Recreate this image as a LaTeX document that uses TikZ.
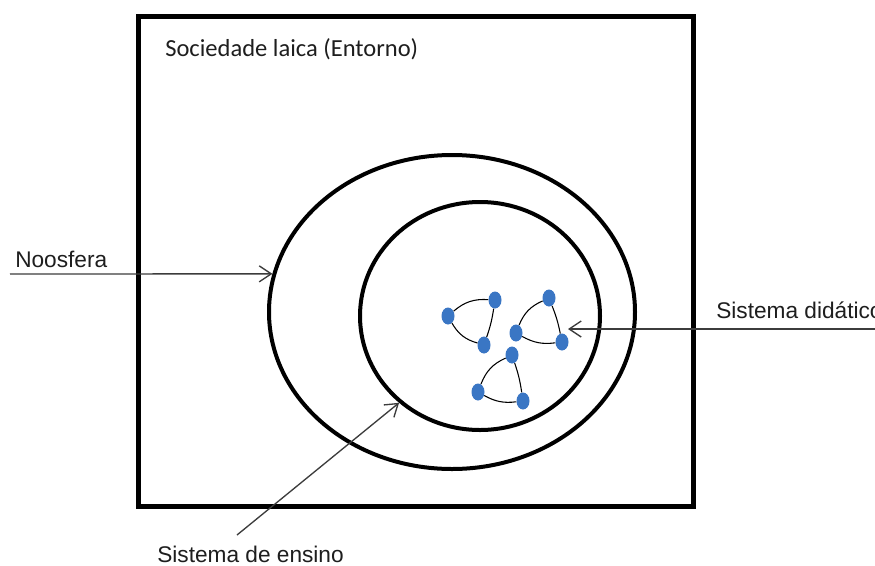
\documentclass[tikz,border=0pt]{standalone}
\usepackage{fontspec}
\setmainfont{Liberation Sans}
\newfontfamily\calfont{Carlito}
\usetikzlibrary{shapes.geometric,arrows.meta}
\definecolor{dotblue}{RGB}{58,118,196}
\definecolor{arrowgray}{RGB}{60,60,60}
\definecolor{txt}{RGB}{30,30,30}
\tikzset{
  frameline/.style={draw=black, line width=3.75pt},
  ring/.style={ellipse, draw=black, line width=3pt, inner sep=0pt},
  agent/.style={ellipse, fill=dotblue, draw=none, minimum width=9.75pt, minimum height=12.75pt, inner sep=0pt},
  tie/.style={draw=black, line width=0.8pt},
  pointer/.style={draw=arrowgray, line width=1pt, -{Straight Barb[length=9pt,width=12pt,line width=1pt]}},
  label/.style={anchor=base west, inner sep=0pt, text=txt, font=\fontsize{17}{20}\selectfont},
}
\begin{document}
\begin{tikzpicture}[x=0.75pt, y=-0.75pt]
\useasboundingbox (0,0) rectangle (875,565);
\clip (0,0) rectangle (875,565);
\fill[white] (0,0) rectangle (875,565);
% frame
\draw[frameline] (138,16) rectangle (693,506);
\node[label, font=\calfont\fontsize{18.4}{22}\selectfont] (soc) at (165,56) {Sociedade laica (Entorno)};
% rings
\node[ring, minimum width=274.5pt, minimum height=235.5pt] (outer) at (452,312) {};
\node[ring, minimum width=180pt, minimum height=171pt] (inner) at (480,316) {};
% agents
\node[agent] (a1) at (448,316) {};
\node[agent] (a2) at (495,300) {};
\node[agent] (a3) at (484,345) {};
\node[agent] (b1) at (549,298) {};
\node[agent] (b2) at (516,333) {};
\node[agent] (b3) at (562,342) {};
\node[agent] (c1) at (512,355) {};
\node[agent] (c2) at (478,392) {};
\node[agent] (c3) at (523,401) {};
\draw[tie] (a1) to[bend left=22] (a2);
\draw[tie] (a2) to[bend left=5] (a3);
\draw[tie] (a1) to[bend right=22] (a3);
\draw[tie] (b2) to[bend left=22] (b1);
\draw[tie] (b1) to[bend left=5] (b3);
\draw[tie] (b2) to[bend right=18] (b3);
\draw[tie] (c2) to[bend left=22] (c1);
\draw[tie] (c1) to[bend left=5] (c3);
\draw[tie] (c2) to[bend right=18] (c3);
% labels and pointers
\node[label] (noos) at (15,267) {Noosfera};
\coordinate (noosstart) at (10,274);
\draw[pointer] (noosstart) -- (outer.168);
\node[label] (did) at (716,318) {Sistema didático};
\coordinate (didstart) at (880,329);
\coordinate (didtip) at (568,329);
\draw[pointer] (didstart) -- (didtip);
\node[label] (ens) at (157,562) {Sistema de ensino};
\coordinate (ensstart) at (237,535);
\draw[pointer] (ensstart) -- (inner.227);
\end{tikzpicture}
\end{document}
